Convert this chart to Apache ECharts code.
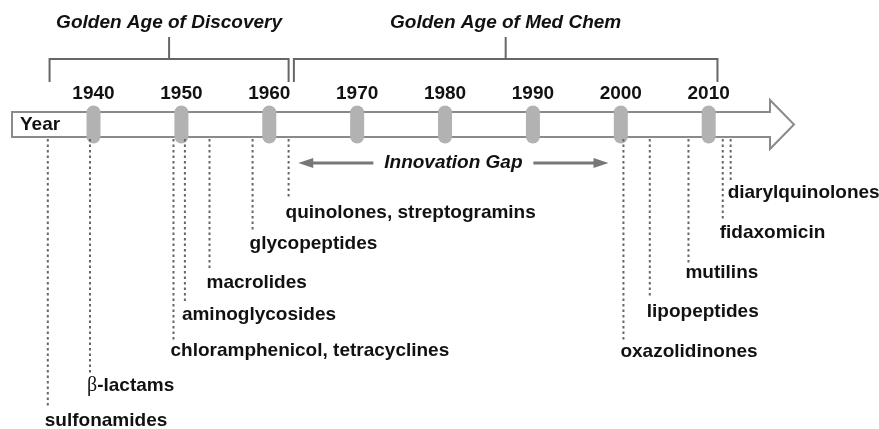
<!DOCTYPE html>
<html>
<head>
<meta charset="utf-8">
<script src="https://cdn.jsdelivr.net/npm/echarts@6/dist/echarts.min.js"></script>
<style>
html,body{margin:0;padding:0;background:#fff;}
#chart{width:879px;height:429px;}
</style>
</head>
<body>
<div id="chart"></div>
<script>
// 时间轴刻度（年份）
var yearTicks = [1940, 1950, 1960, 1970, 1980, 1990, 2000, 2010];
// 抗生素类别及发现年份
var classNames = ['sulfonamides', '{b|β}-lactams', 'chloramphenicol, tetracyclines', 'aminoglycosides',
                  'macrolides', 'glycopeptides', 'quinolones, streptogramins', 'oxazolidinones',
                  'lipopeptides', 'mutilins', 'fidaxomicin', 'diarylquinolones'];
var classYears = [1934.8, 1939.6, 1949.1, 1950.4, 1953.2, 1958.1, 1962.2, 2000.3, 2003.3, 2007.7, 2011.6, 2012.5];
// 时代括号
var eraNames = ['Golden Age of Discovery', 'Golden Age of Med Chem'];
var eraStart = [1935.0, 1962.8];
var eraEnd = [1962.2, 2011.0];
// 创新空白期
var gapLabel = 'Innovation Gap';
var gapSpan = [1963.3, 1998.6];

// 版面：纵向位置（像素，y轴 0..429 自上而下）
var lineEnd = [408, 373, 340, 303, 268, 232, 198, 341, 296, 263, 219, 183];
var labelY = [421, 386, 351, 315, 283, 244, 213, 352, 312, 273, 233, 193];

var FONT = "'Liberation Sans', Arial, sans-serif";
var TXT = '#111';

var myChart = echarts.init(document.getElementById('chart'));

var classData = [];
for (var i = 0; i < classYears.length; i++) {
	classData.push([classYears[i], lineEnd[i], labelY[i], i]);
}
var eraData = [];
for (var e = 0; e < eraNames.length; e++) {
	eraData.push([eraStart[e], eraEnd[e], e]);
}

var option = {
	animation: false,
	grid: {left: 0, right: 0, top: 0, bottom: 0},
	xAxis: {type: 'value', min: 1929.36, max: 2029.38, show: false},
	yAxis: {type: 'value', min: 0, max: 429, inverse: true, show: false},
	graphic: [{
		type: 'polygon',
		z: 1,
		shape: {points: [[12, 112], [770, 112], [770, 100], [794, 124.5], [770, 149], [770, 137], [12, 137]]},
		style: {fill: '#fff', stroke: '#8a8a8a', lineWidth: 2}
	}, {
		type: 'text',
		z: 2,
		x: 20, y: 125,
		style: {text: 'Year', font: 'bold 19px ' + FONT, fill: TXT, verticalAlign: 'middle'}
	}],
	series: [{
		// 年份刻度
		type: 'custom',
		z: 5,
		data: yearTicks.map(function (y) { return [y]; }),
		renderItem: function (params, api) {
			var p = api.coord([api.value(0), 124.5]);
			var t = api.coord([api.value(0), 94]);
			return {type: 'group', children: [
				{type: 'rect', shape: {x: p[0] - 7, y: p[1] - 19, width: 14, height: 38, r: 7},
				 style: {fill: '#b2b2b2'}},
				{type: 'text', x: t[0], y: t[1],
				 style: {text: String(api.value(0)), font: 'bold 19px ' + FONT, fill: TXT, align: 'center', verticalAlign: 'middle'}}
			]};
		}
	}, {
		// 各类抗生素
		type: 'custom',
		z: 5,
		data: classData,
		renderItem: function (params, api) {
			var top = api.coord([api.value(0), 139]);
			var bot = api.coord([api.value(0), api.value(1)]);
			var lab = api.coord([api.value(0), api.value(2)]);
			return {type: 'group', children: [
				{type: 'line', shape: {x1: top[0], y1: top[1], x2: bot[0], y2: bot[1]},
				 style: {stroke: '#666', lineWidth: 2, lineDash: [2.5, 3]}},
				{type: 'text', x: lab[0] - 3, y: lab[1],
				 style: {text: classNames[api.value(3)], font: 'bold 19px ' + FONT, fill: TXT, verticalAlign: 'middle',
					 rich: {b: {fontFamily: "'Liberation Serif', serif", fontWeight: 'normal', fontSize: 20, fill: TXT}}}}
			]};
		}
	}, {
		// 时代括号
		type: 'custom',
		z: 5,
		data: eraData,
		renderItem: function (params, api) {
			var a = api.coord([api.value(0), 59]);
			var b = api.coord([api.value(1), 59]);
			var legY = api.coord([api.value(0), 82])[1];
			var mid = (a[0] + b[0]) / 2;
			var ln = {stroke: '#666', lineWidth: 2, fill: null};
			return {type: 'group', children: [
				{type: 'polyline', shape: {points: [[a[0], legY], [a[0], a[1]], [b[0], b[1]], [b[0], legY]]}, style: ln},
				{type: 'line', shape: {x1: mid, y1: 37, x2: mid, y2: a[1]}, style: ln},
				{type: 'text', x: mid, y: 23,
				 style: {text: eraNames[api.value(2)], font: 'italic bold 19px ' + FONT, fill: TXT, align: 'center', verticalAlign: 'middle'}}
			]};
		}
	}, {
		// 创新空白期
		type: 'custom',
		z: 5,
		data: [gapSpan],
		renderItem: function (params, api) {
			var l = api.coord([api.value(0), 163]);
			var r = api.coord([api.value(1), 163]);
			var mid = (l[0] + r[0]) / 2;
			var half = 80;
			var col = '#777';
			return {type: 'group', children: [
				{type: 'line', shape: {x1: mid - half, y1: l[1], x2: l[0] + 12, y2: l[1]}, style: {stroke: col, lineWidth: 3}},
				{type: 'polygon', shape: {points: [[l[0], l[1]], [l[0] + 15, l[1] - 5], [l[0] + 15, l[1] + 5]]}, style: {fill: col}},
				{type: 'line', shape: {x1: mid + half, y1: r[1], x2: r[0] - 12, y2: r[1]}, style: {stroke: col, lineWidth: 3}},
				{type: 'polygon', shape: {points: [[r[0], r[1]], [r[0] - 15, r[1] - 5], [r[0] - 15, r[1] + 5]]}, style: {fill: col}},
				{type: 'text', x: mid, y: l[1],
				 style: {text: gapLabel, font: 'italic bold 19px ' + FONT, fill: TXT, align: 'center', verticalAlign: 'middle'}}
			]};
		}
	}]
};
myChart.setOption(option);
</script>
</body>
</html>
